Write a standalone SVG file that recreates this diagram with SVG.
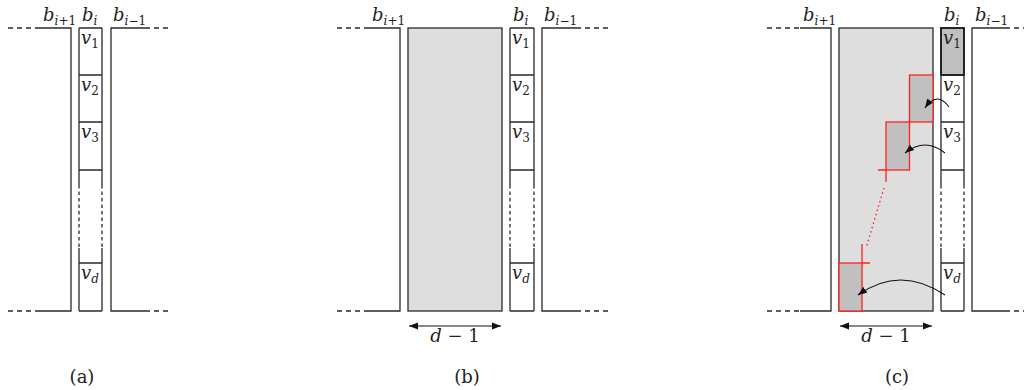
<svg xmlns="http://www.w3.org/2000/svg" width="1024" height="390" viewBox="0 0 1024 390">
<style>
.ln{fill:none;stroke:#2a2a2a;stroke-width:1.3}
.ds{fill:none;stroke:#2a2a2a;stroke-width:1.3;stroke-dasharray:5 4}
.vd{fill:none;stroke:#2a2a2a;stroke-width:1.3;stroke-dasharray:3.5 3}
.big{fill:#dedede;stroke:#2a2a2a;stroke-width:1.3}
.red{fill:none;stroke:#ff2020;stroke-width:1.3}
.redf{fill:#c0c0c0;stroke:#ff2020;stroke-width:1.3}
.dot{fill:none;stroke:#ff2020;stroke-width:1.3;stroke-dasharray:1.5 3}
.arr{fill:none;stroke:#111;stroke-width:1.1}
text{font-family:"DejaVu Serif",serif;font-size:18px;fill:#222}
.m{font-style:italic}
.sub{font-size:12px;font-style:italic}
.subn{font-size:12px;font-style:normal}
</style>
<defs>
<marker id="ah" markerUnits="userSpaceOnUse" markerWidth="10" markerHeight="8" refX="9" refY="4" orient="auto-start-reverse">
<path d="M0,0.5 L9,4 L0,7.5 z" fill="#111"/>
</marker>
</defs>

<!-- Panel (a) -->
<g id="a-left">
<path class="ds" d="M8,28 H40 M8,311 H40"/>
<path class="ln" d="M40,28 H71 V311 H40"/>
<text x="43" y="21" class="m">b<tspan class="sub" dy="4">i</tspan><tspan class="subn">+1</tspan></text>
</g>
<g id="a-bi">
<path class="ln" d="M79,28 H102 M79,75 H102 M79,122 H102 M79,170 H102 M79,263 H102 M79,311 H102 M79,28 V185 M102,28 V185 M79,248 V311 M102,248 V311"/>
<path class="vd" d="M79,185 V248 M102,185 V248"/>
<text x="82" y="21" class="m">b<tspan class="sub" dy="4">i</tspan></text>
<text x="81" y="44" class="m">v<tspan class="subn" dy="4">1</tspan></text>
<text x="81" y="91" class="m">v<tspan class="subn" dy="4">2</tspan></text>
<text x="81" y="138" class="m">v<tspan class="subn" dy="4">3</tspan></text>
<text x="81" y="279" class="m">v<tspan class="sub" dy="4">d</tspan></text>
</g>
<g id="a-right">
<path class="ln" d="M145,28 H111 V311 H145"/>
<path class="ds" d="M145,28 H172 M145,311 H172"/>
<text x="113" y="21" class="m">b<tspan class="sub" dy="4">i</tspan><tspan class="subn">−1</tspan></text>
</g>
<text id="a-label" x="82" y="383" text-anchor="middle">(a)</text>

<!-- Panel (b) -->
<g id="b-left">
<path class="ds" d="M337,28 H369 M337,311 H369"/>
<path class="ln" d="M369,28 H400 V311 H369"/>
<text x="372" y="21" class="m">b<tspan class="sub" dy="4">i</tspan><tspan class="subn">+1</tspan></text>
</g>
<g id="b-block">
<rect class="big" x="408" y="28" width="94" height="283"/>
</g>
<g id="b-bi">
<path class="ln" d="M510,28 H534 M510,75 H534 M510,122 H534 M510,170 H534 M510,263 H534 M510,311 H534 M510,28 V185 M534,28 V185 M510,248 V311 M534,248 V311"/>
<path class="vd" d="M510,185 V248 M534,185 V248"/>
<text x="513" y="21" class="m">b<tspan class="sub" dy="4">i</tspan></text>
<text x="512" y="44" class="m">v<tspan class="subn" dy="4">1</tspan></text>
<text x="512" y="91" class="m">v<tspan class="subn" dy="4">2</tspan></text>
<text x="512" y="138" class="m">v<tspan class="subn" dy="4">3</tspan></text>
<text x="512" y="279" class="m">v<tspan class="sub" dy="4">d</tspan></text>
</g>
<g id="b-right">
<path class="ln" d="M576,28 H542 V311 H576"/>
<path class="ds" d="M576,28 H610 M576,311 H610"/>
<text x="544" y="21" class="m">b<tspan class="sub" dy="4">i</tspan><tspan class="subn">−1</tspan></text>
</g>
<text id="b-label" x="467" y="383" text-anchor="middle">(b)</text>

<!-- Panel (c) -->
<g id="c-left">
<path class="ds" d="M767,28 H800 M767,311 H800"/>
<path class="ln" d="M800,28 H831 V311 H800"/>
<text x="803" y="21" class="m">b<tspan class="sub" dy="4">i</tspan><tspan class="subn">+1</tspan></text>
</g>
<g id="c-block">
<rect class="big" x="839" y="28" width="94" height="283"/>
<rect class="redf" x="909.5" y="75" width="23.5" height="47"/>
<rect class="redf" x="886" y="122" width="23.5" height="48"/>
<path class="red" d="M878,170 H886 V182"/>
<path class="dot" d="M884,188 L866,248"/>
<rect class="redf" x="839" y="263" width="23" height="48"/>
<path class="red" d="M862,244 V263 H870"/>
</g>
<g id="c-bi">
<rect x="941" y="28" width="23" height="47" fill="#c0c0c0" stroke="#111" stroke-width="1.8"/>
<path class="ln" d="M941,122 H964 M941,170 H964 M941,263 H964 M941,311 H964 M941,75 V185 M964,75 V185 M941,248 V311 M964,248 V311"/>
<path class="vd" d="M941,185 V248 M964,185 V248"/>
<text x="944" y="21" class="m">b<tspan class="sub" dy="4">i</tspan></text>
<text x="943" y="44" class="m">v<tspan class="subn" dy="4">1</tspan></text>
<text x="943" y="91" class="m">v<tspan class="subn" dy="4">2</tspan></text>
<text x="943" y="138" class="m">v<tspan class="subn" dy="4">3</tspan></text>
<text x="943" y="279" class="m">v<tspan class="sub" dy="4">d</tspan></text>
</g>
<g id="c-right">
<path class="ln" d="M1005,28 H972 V311 H1005"/>
<path class="ds" d="M1005,28 H1024 M1005,311 H1024"/>
<text x="975" y="21" class="m">b<tspan class="sub" dy="4">i</tspan><tspan class="subn">−1</tspan></text>
</g>
<text id="c-label" x="897" y="383" text-anchor="middle">(c)</text>

<!-- Connectors -->
<g id="connectors">
<path class="arr" d="M409,326 H501" marker-start="url(#ah)" marker-end="url(#ah)"/>
<path class="arr" d="M840,326 H932" marker-start="url(#ah)" marker-end="url(#ah)"/>
<path class="arr" d="M949,107 Q937,90.5 925,108" marker-end="url(#ah)"/>
<path class="arr" d="M945,153 Q925,137 905,153" marker-end="url(#ah)"/>
<path class="arr" d="M945,295 Q900,265 858,295" marker-end="url(#ah)"/>
</g>
<text x="455" y="342" text-anchor="middle"><tspan class="m">d</tspan> − 1</text>
<text x="886" y="342" text-anchor="middle"><tspan class="m">d</tspan> − 1</text>
</svg>
